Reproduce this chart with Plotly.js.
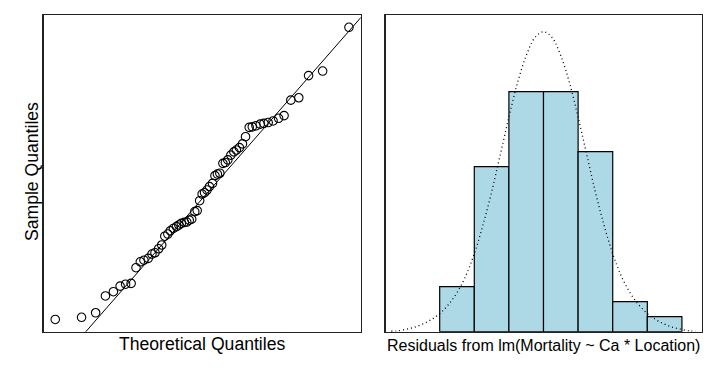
<!DOCTYPE html>
<html>
<head>
<meta charset="utf-8">
<script src="https://cdn.plot.ly/plotly-3.0.1.min.js"></script>
<style>html,body{margin:0;padding:0;background:#fff;}#chart{width:719px;height:370px;}</style>
</head>
<body>
<div id="chart"></div>
<script>
// QQ plot: theoretical quantiles and sorted residuals
var theoretical = [-2.40,-1.97,-1.74,-1.58,-1.45,-1.34,-1.25,-1.16,-1.08,-1.01,-0.95,-0.88,-0.82,-0.77,-0.71,-0.66,-0.61,-0.56,-0.52,-0.47,-0.42,-0.38,-0.34,-0.29,-0.25,-0.21,-0.17,-0.12,-0.08,-0.04,0.00,0.04,0.08,0.12,0.17,0.21,0.25,0.29,0.34,0.38,0.42,0.47,0.52,0.56,0.61,0.66,0.71,0.77,0.82,0.88,0.95,1.01,1.08,1.16,1.25,1.34,1.45,1.58,1.74,1.97,2.40];
var sampleQ = [-230,-226,-217.5,-186,-178,-167.5,-164,-162.5,-133,-122,-119,-115.5,-107.5,-105,-97.5,-90.5,-74,-70,-64,-59.5,-56,-53,-50,-48,-47.5,-44,-42,-28,-26,-7.5,5,7.5,12.5,19,25,39.5,42.5,44,62.5,64,69,78,84,87.5,92,99,112.5,130,131,133,136,137.5,139,142,147,152,181,185.5,227,235.5,317.5];
var qqIntercept = -4;
var qqSlope = 131;

// Histogram of residuals
var binCenters = [-250,-150,-50,50,150,250,350];
var binCounts = [3,11,16,16,12,2,1];
var binWidth = 100;

// Normal density curve
var curveX = [-440,-425,-400,-375,-350,-325,-300,-275,-250,-225,-200,-175,-150,-125,-100,-75,-50,-25,0,25,50,75,100,125,150,175,200,225,250,275,300,325,350,375,400,425,440];
var curveY = [0.0000049,0.0000066,0.0000246,0.0000459,0.000082,0.000131,0.000197,0.000295,0.000426,0.000607,0.000852,0.001164,0.001525,0.001934,0.002344,0.002721,0.003016,0.003213,0.003279,0.003213,0.003016,0.002721,0.002344,0.001934,0.001525,0.001164,0.000852,0.000607,0.000426,0.000295,0.000197,0.000131,0.000082,0.0000459,0.0000246,0.0000066,0.0000049];

var nObs = binCounts.reduce(function(a,b){return a+b;},0);
var binDensity = binCounts.map(function(c){return c/(nObs*binWidth);});

var lineX = [-3, 3];
var lineY = lineX.map(function(x){return qqIntercept + qqSlope*x;});

var traces = [
  {type:'scatter', mode:'lines', x:lineX, y:lineY, xaxis:'x', yaxis:'y',
   line:{color:'#000', width:1}, hoverinfo:'skip'},
  {type:'scatter', mode:'markers', x:theoretical, y:sampleQ, xaxis:'x', yaxis:'y',
   marker:{symbol:'circle-open', size:8.5, color:'#000', line:{width:1.1, color:'#000'}}},
  {type:'bar', x:binCenters, y:binDensity, width:binWidth, xaxis:'x2', yaxis:'y2',
   marker:{color:'#ADD8E6', line:{color:'#000', width:1.2}}},
  {type:'scatter', mode:'lines', x:curveX, y:curveY, xaxis:'x2', yaxis:'y2',
   line:{color:'#000', width:1.3, dash:'1px,3px', shape:'spline'}}
];

var W = 719, H = 370;
function px(v){return v/W;}
function py(v){return 1 - v/H;}

var axBase = {showgrid:false, zeroline:false, showticklabels:false, ticks:'',
  showline:true, mirror:true, linecolor:'#222', linewidth:1.3};

var layout = {
  width:W, height:H, showlegend:false,
  margin:{l:0,r:0,t:0,b:0},
  paper_bgcolor:'#fff', plot_bgcolor:'#fff',
  font:{family:'Liberation Sans, Arial, sans-serif', color:'#000', size:16},
  bargap:0,
  xaxis:Object.assign({}, axBase, {domain:[px(43.5), px(360.7)], range:[-2.592, 2.592], anchor:'y'}),
  yaxis:Object.assign({}, axBase, {domain:[py(331.7), py(15)], range:[-253, 340.6], anchor:'x'}),
  xaxis2:Object.assign({}, axBase, {domain:[px(385.7), px(702)], range:[-456, 458], anchor:'y2'}),
  yaxis2:Object.assign({}, axBase, {domain:[py(331.7), py(15)], range:[0, 0.003461], anchor:'x2'}),
  annotations:[
    {text:'Theoretical Quantiles', xref:'paper', yref:'paper', x:px(201.5), y:py(343.5), xanchor:'center', yanchor:'middle', showarrow:false, font:{size:17.6}},
    {text:'Sample Quantiles', xref:'paper', yref:'paper', x:px(32), y:py(172), xanchor:'center', yanchor:'middle', textangle:-90, showarrow:false, font:{size:17.6}},
    {text:'Residuals from lm(Mortality ~ Ca * Location)', xref:'paper', yref:'paper', x:px(543.9), y:py(345), xanchor:'center', yanchor:'middle', showarrow:false, font:{size:16}}
  ]
};

Plotly.newPlot('chart', traces, layout, {staticPlot:true, displayModeBar:false});
</script>
</body>
</html>
